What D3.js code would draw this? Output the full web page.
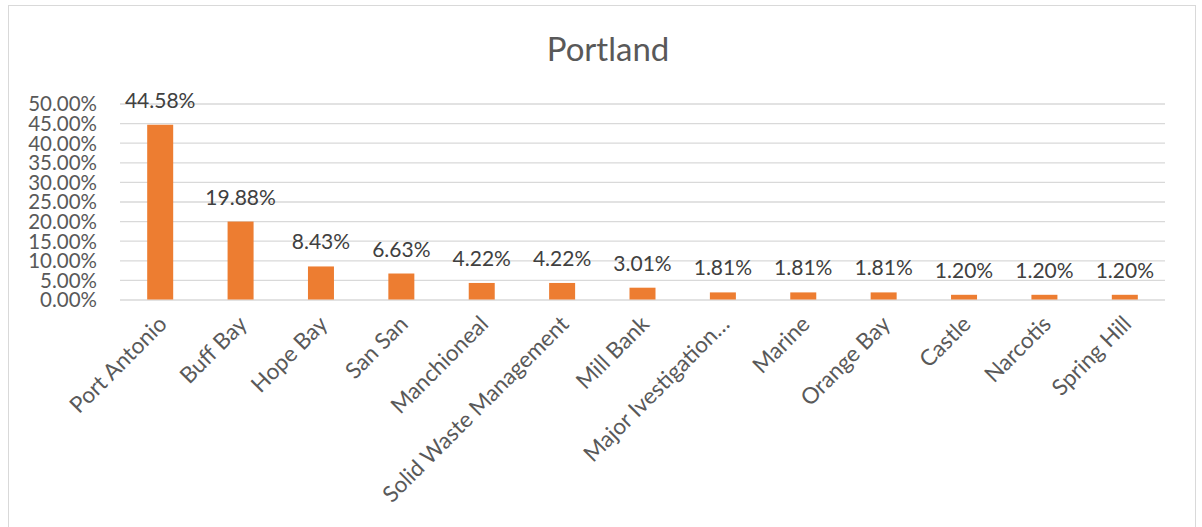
<!DOCTYPE html>
<html>
<head>
<meta charset="utf-8">
<script src="https://cdn.jsdelivr.net/npm/d3@7"></script>
<style>
  body { margin: 0; background: #fff; }
  text { font-family: Lato, "Open Sans", sans-serif; }
</style>
</head>
<body>
<div id="barChart"></div>
<script>
// data
var categories = ["Port Antonio", "Buff Bay", "Hope Bay", "San San", "Manchioneal",
  "Solid Waste Management", "Mill Bank", "Major Ivestigation\u2026", "Marine",
  "Orange Bay", "Castle", "Narcotis", "Spring Hill"];
var shares = [44.58, 19.88, 8.43, 6.63, 4.22, 4.22, 3.01, 1.81, 1.81, 1.81, 1.20, 1.20, 1.20];
var yTicks = [0, 5, 10, 15, 20, 25, 30, 35, 40, 45, 50];
var chartTitle = "Portland";

var width = 1202, height = 527;
var padding = { top: 103.5, right: 37, bottom: 227.5, left: 120 };

var svg = d3.select("#barChart").append("svg")
  .attr("width", width)
  .attr("height", height);

// chart frame
svg.append("rect")
  .attr("x", 8.5).attr("y", 5.5)
  .attr("width", 1187).attr("height", 540)
  .attr("fill", "#fff")
  .attr("stroke", "#d9d9d9");

svg.append("text")
  .attr("x", 608).attr("y", 61)
  .attr("text-anchor", "middle")
  .style("font-size", "33px")
  .style("fill", "#595959")
  .text(chartTitle);

var xscale = d3.scaleBand()
  .domain(categories)
  .range([padding.left, width - padding.right])
  .padding(0);

var yscale = d3.scaleLinear()
  .domain([0, 50])
  .range([height - padding.bottom, padding.top]);

// gridlines + y labels
var yAxis = d3.axisLeft(yscale)
  .tickValues(yTicks)
  .tickSize(-(width - padding.left - padding.right))
  .tickFormat(function (d) { return d.toFixed(2) + "%"; });

var gy = svg.append("g")
  .attr("transform", "translate(" + padding.left + ",0)")
  .call(yAxis.tickSizeOuter(0));
gy.select(".domain").remove();
gy.selectAll(".tick line").attr("stroke", "#d9d9d9").attr("stroke-width", 1.3);
gy.selectAll(".tick text")
  .attr("x", -23)
  .attr("dy", "0.36em")
  .style("font-size", "20.5px")
  .style("fill", "#595959")
  .style("font-family", "Lato, 'Open Sans', sans-serif");

var barW = 26;

svg.selectAll(".bar").data(shares).enter().append("rect")
  .attr("class", "bar")
  .attr("x", function (d, i) { return xscale(categories[i]) + xscale.bandwidth() / 2 - barW / 2; })
  .attr("y", function (d) { return yscale(d); })
  .attr("width", barW)
  .attr("height", function (d) { return yscale(0) - yscale(d); })
  .attr("fill", "#ED7D31");

// data labels
svg.selectAll(".lbl").data(shares).enter().append("text")
  .attr("class", "lbl")
  .attr("x", function (d, i) { return xscale(categories[i]) + xscale.bandwidth() / 2; })
  .attr("y", function (d) { return yscale(d) - 17; })
  .attr("text-anchor", "middle")
  .style("font-size", "21px")
  .style("fill", "#404040")
  .text(function (d) { return d.toFixed(2) + "%"; });

// rotated category labels
svg.selectAll(".cat").data(categories).enter().append("text")
  .attr("class", "cat")
  .attr("transform", function (d) {
    var cx = xscale(d) + xscale.bandwidth() / 2 + 8;
    return "translate(" + cx + "," + (yscale(0) + 26) + ") rotate(-45)";
  })
  .attr("text-anchor", "end")
  .style("font-size", "22.5px")
  .style("fill", "#595959")
  .text(function (d) { return d; });
</script>
</body>
</html>
